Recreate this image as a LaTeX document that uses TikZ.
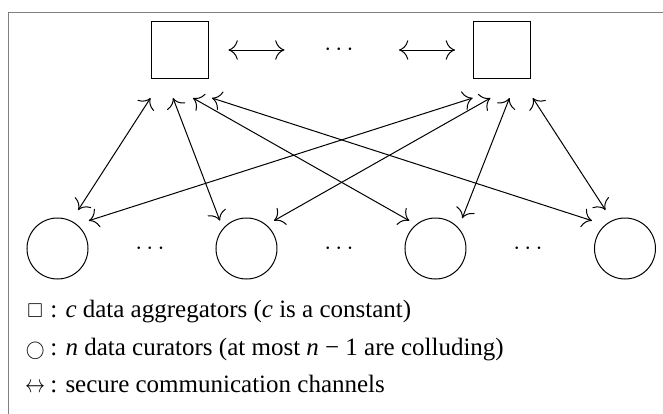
\documentclass[tikz,border=0pt]{standalone}
\usepackage{amssymb}
\usepackage{graphicx}
\usepackage{fontspec}
\setmainfont{Liberation Serif}
\usetikzlibrary{calc,arrows.meta}
\tikzset{
    agg/.style={draw, rectangle, minimum size=22.8pt, inner sep=0pt},
    cur/.style={draw, circle, minimum size=24.4pt, inner sep=0pt},
    chan/.style={{To[scale=1.5]}-{To[scale=1.5]}},
    legend/.style={anchor=base west, inner sep=0pt},
}
\newcommand{\symbox}[1]{\makebox[7pt][c]{#1}\hspace{2.5pt}}
\begin{document}
\begin{tikzpicture}[x=0.4pt,y=-0.4pt]
    \useasboundingbox (0,0) rectangle (663,414);
    \draw[gray] (9,440) -- (9,12) -- (690,12);
    % aggregators
    \node[agg] (s1) at (180.5,50) {};
    \node[agg] (s2) at (502,50) {};
    \node (tdots) at (339,50) {$\cdots$};
    \draw[chan] ($(s1.east)+(19,0)$) -- ($(s1.east)+(75,0)$);
    \draw[chan] ($(s2.west)+(-74,0)$) -- ($(s2.west)+(-18,0)$);
    % curators
    \foreach \i/\x in {1/57.5, 2/246.5, 3/435.5, 4/625} \node[cur] (c\i) at (\x,248.5) {};
    \foreach \j/\x in {1/150, 2/339, 3/528} \node (bdots\j) at (\x,248.5) {$\cdots$};
    % channels
    \foreach \i/\a/\dx/\dy in {1/-30/20.7/-38.5, 2/-7.5/-26.6/-27.8, 3/12.4/-26.2/-27.8, 4/31.4/-33/-27.8}
        \draw[chan] ($(s1.south)+(\a,19)$) -- ($(c\i.center)+(\dx,\dy)$);
    \foreach \i/\a/\dx/\dy in {1/-29.3/31.3/-27.8, 2/-11.5/27.5/-27.8, 3/7.5/26.7/-30.2, 4/30.8/-19.5/-38.5}
        \draw[chan] ($(s2.south)+(\a,19)$) -- ($(c\i.center)+(\dx,\dy)$);
    % legend
    \node[legend] (l1) at (26,318) {\symbox{\scalebox{0.8}{$\square$}}: \textit{c} data aggregators (\textit{c} is a constant)};
    \node[legend] (l2) at (26,355) {\symbox{\scalebox{0.75}{$\bigcirc$}}: \textit{n} data curators (at most \textit{n} − 1 are colluding)};
    \node[legend] (l3) at (26,392) {\symbox{\scalebox{0.8}[1]{$\leftrightarrow$}}: secure communication channels};
\end{tikzpicture}
\end{document}
